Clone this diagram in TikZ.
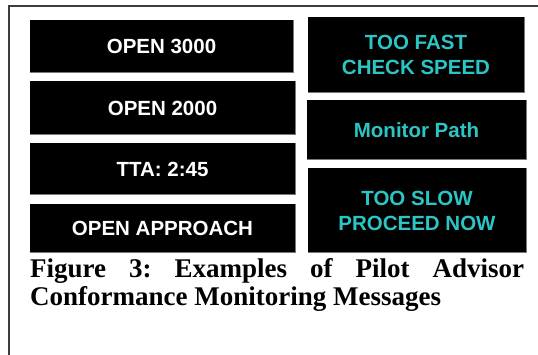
\documentclass[tikz,border=0pt]{standalone}
\usepackage{fontspec}
\setmainfont{Liberation Serif}
\newfontfamily\arialfont{Liberation Sans}
\definecolor{msgcyan}{RGB}{44,197,197}
\definecolor{edgegray}{RGB}{120,120,120}
\definecolor{framegray}{RGB}{60,60,60}
\frenchspacing
\begin{document}
\begin{tikzpicture}[x=1pt,y=-1pt,
  msgbox/.style={fill=black, draw=none, inner sep=0pt, outer sep=0pt, anchor=north west,
    align=center, font=\arialfont\bfseries\fontsize{20.5}{25}\selectfont},
  whitemsg/.style={msgbox, text=white},
  cyanmsg/.style={msgbox, text=msgcyan},
  boxedge/.style={draw=edgegray, line width=1pt},
  frameline/.style={draw=framegray, line width=1.5pt}
]
\useasboundingbox (0,0) rectangle (538,355);
% frame
\coordinate (ftl) at (9,6);
\coordinate (ftr) at (538,6);
\coordinate (fbl) at (9,355);
\draw[frameline] (ftr) -- (ftl) -- (fbl);
% left column
\node[whitemsg, minimum width=263pt, minimum height=53pt] (b1) at (30,20) {OPEN 3000};
\node[whitemsg, minimum width=265pt, minimum height=54pt] (b2) at (30,81) {OPEN 2000};
\node[whitemsg, minimum width=265pt, minimum height=52pt] (b3) at (30,143) {TTA: 2:45};
\node[whitemsg, minimum width=265pt, minimum height=49pt, text depth=-6pt] (b4) at (30,204) {OPEN APPROACH};
% right column
\node[cyanmsg, minimum width=216pt, minimum height=76pt] (r1) at (308,17) {TOO FAST\\CHECK SPEED};
\node[cyanmsg, minimum width=219pt, minimum height=60pt] (r2) at (307,100) {Monitor Path};
\node[cyanmsg, minimum width=218pt, minimum height=85pt] (r3) at (308,168) {TOO SLOW\\PROCEED NOW};
% box edges
\foreach \b in {b1,b2,b3,b4,r1,r2,r3}{
  \draw[boxedge] (\b.north east) -- (\b.south east) -- (\b.south west);
}
% caption
\node[anchor=base west, text width=494pt, align=justify, inner sep=0pt,
  font=\bfseries\fontsize{27}{28}\selectfont] (cap) at (30,278)
  {Figure 3: Examples of Pilot Advisor\linebreak Conformance Monitoring Messages};
\end{tikzpicture}
\end{document}
